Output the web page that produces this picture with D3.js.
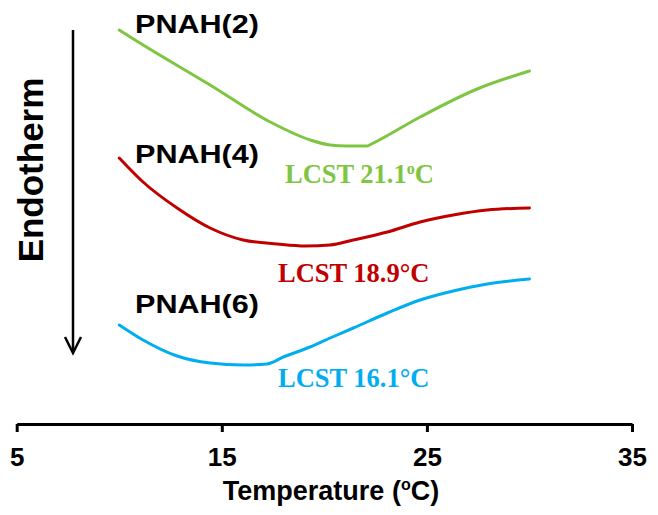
<!DOCTYPE html>
<html>
<head>
<meta charset="utf-8">
<script src="https://cdn.jsdelivr.net/npm/d3@7"></script>
<style>
  html, body { margin: 0; padding: 0; background: #fff; }
  svg { display: block; }
</style>
</head>
<body>
<svg id="chart" width="658" height="515"></svg>
<script>
// ---- data (temperature in °C, heat flow in arbitrary units, curves offset for clarity) ----
const xTicks = [5, 15, 25, 35];

const tempPNAH2 = [10.0, 10.77, 14.43, 17.36, 19.31, 20.28, 21.1, 22.09, 22.3, 24.67, 27.45, 30.0];
const heatPNAH2 = [100, 97.5, 86.25, 77, 72.5, 71.25, 71, 71, 71.5, 78.25, 85.25, 89.75];

const tempPNAH4 = [10.0, 11.16, 12.82, 14.43, 16.04, 17.7, 19.07, 20.28, 21.41, 23.07, 24.67, 26.28, 27.94, 30.0];
const heatPNAH4 = [68, 62, 55.5, 50.5, 47.5, 46.5, 46, 46.25, 47.5, 49.5, 52, 53.75, 55, 55.5];

const tempPNAH6 = [10.0, 11.16, 12.82, 14.43, 16.04, 17.2, 18.0, 19.3, 20.28, 21.41, 23.07, 24.67, 26.28, 27.94, 30.0];
const heatPNAH6 = [26.25, 22.5, 18.5, 16.75, 16.25, 16.5, 18.25, 20.75, 23, 25.5, 29.25, 32.5, 34.75, 36.5, 37.75];

const seriesNames = ["PNAH(2)", "PNAH(4)", "PNAH(6)"];
const lcstValues = [21.1, 18.9, 16.1];

// ---- drawing ----
const svg = d3.select("#chart");
const x = d3.scaleLinear().domain([5, 35]).range([16.7, 632]);
const y = d3.scaleLinear().domain([0, 100]).range([430, 30]);

const colors = ["#7ec642", "#c00000", "#00aeef"];
const series = [
  {name: seriesNames[0], t: tempPNAH2, h: heatPNAH2, color: colors[0]},
  {name: seriesNames[1], t: tempPNAH4, h: heatPNAH4, color: colors[1]},
  {name: seriesNames[2], t: tempPNAH6, h: heatPNAH6, color: colors[2]}
];

const line = d3.line()
  .x(d => x(d[0]))
  .y(d => y(d[1]))
  .curve(d3.curveMonotoneX);

series.forEach(s => {
  svg.append("path")
    .datum(s.t.map((t, i) => [t, s.h[i]]))
    .attr("fill", "none")
    .attr("stroke", s.color)
    .attr("stroke-width", 3)
    .attr("stroke-linecap", "round")
    .attr("d", line);
});

// series labels
const labelPos = [[135, 33], [135, 163], [135, 313]];
series.forEach((s, i) => {
  svg.append("text")
    .attr("x", labelPos[i][0])
    .attr("y", labelPos[i][1])
    .attr("font-family", "Liberation Sans, Arial, sans-serif")
    .attr("font-weight", "bold")
    .attr("font-size", 25)
    .attr("textLength", 124)
    .attr("lengthAdjust", "spacingAndGlyphs")
    .attr("fill", "#000")
    .text(s.name);
});

// LCST labels
const lcstPos = [[285, 183], [278, 282], [278, 387]];
series.forEach((s, i) => {
  const t = svg.append("text")
    .attr("x", lcstPos[i][0])
    .attr("y", lcstPos[i][1])
    .attr("font-family", "Liberation Serif, Times New Roman, serif")
    .attr("font-weight", "bold")
    .attr("font-size", 26.5)
    .attr("fill", s.color);
  if (i === 0) {
    t.append("tspan").text("LCST " + lcstValues[i].toFixed(1));
    t.append("tspan").attr("font-size", 16).attr("dy", -9).text("o");
    t.append("tspan").attr("dy", 9).text("C");
  } else {
    t.text("LCST " + lcstValues[i].toFixed(1) + "\u00B0C");
  }
});

// x axis
const axis = svg.append("g")
  .attr("transform", "translate(0,424)")
  .call(d3.axisBottom(x).tickValues(xTicks).tickSize(8).tickSizeOuter(0).tickPadding(16).tickFormat(d3.format("d")));
axis.select(".domain").attr("stroke", "#000").attr("stroke-width", 3);
axis.selectAll(".tick line").attr("stroke", "#000").attr("stroke-width", 3);
axis.selectAll(".tick text")
  .attr("font-family", "Liberation Sans, Arial, sans-serif")
  .attr("font-weight", "bold")
  .attr("font-size", 26)
  .attr("fill", "#000");

// x axis title
const title = svg.append("text")
  .attr("x", 331)
  .attr("y", 500)
  .attr("text-anchor", "middle")
  .attr("font-family", "Liberation Sans, Arial, sans-serif")
  .attr("font-weight", "bold")
  .attr("font-size", 27)
  .attr("fill", "#000");
title.append("tspan").text("Temperature (");
title.append("tspan").attr("font-size", 16).attr("dy", -10).text("o");
title.append("tspan").attr("dy", 10).text("C)");

// Endotherm label and arrow
svg.append("text")
  .attr("transform", "translate(43,170) rotate(-90)")
  .attr("text-anchor", "middle")
  .attr("font-family", "Liberation Sans, Arial, sans-serif")
  .attr("font-weight", "bold")
  .attr("font-size", 35)
  .attr("fill", "#000")
  .text("Endotherm");

svg.append("line")
  .attr("x1", 73).attr("y1", 30).attr("x2", 73).attr("y2", 352)
  .attr("stroke", "#000").attr("stroke-width", 2.5);
svg.append("path")
  .attr("d", "M65,337 L73,353 L81,337")
  .attr("fill", "none").attr("stroke", "#000").attr("stroke-width", 2.5)
  .attr("stroke-linejoin", "miter");
</script>
</body>
</html>
